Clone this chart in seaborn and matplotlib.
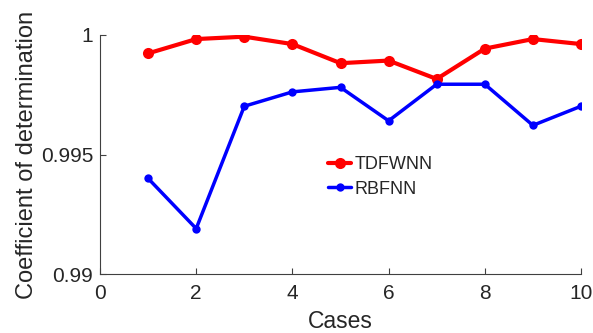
import numpy as np
import pandas as pd
import matplotlib
matplotlib.use('Agg')
import matplotlib.pyplot as plt
import seaborn as sns

cases = [1, 2, 3, 4, 5, 6, 7, 8, 9, 10]
tdfwnn = [0.99923, 0.99983, 0.99993, 0.99962, 0.99882, 0.99893, 0.99816, 0.99943, 0.99983, 0.99962]
rbfnn = [0.99400, 0.99190, 0.99702, 0.99762, 0.99781, 0.99641, 0.99794, 0.99794, 0.99622, 0.99702]

df = pd.DataFrame({'Cases': cases * 2,
                   'value': tdfwnn + rbfnn,
                   'model': ['TDFWNN'] * 10 + ['RBFNN'] * 10})

sns.set_style('white')
plt.rcParams['font.family'] = ['Liberation Sans', 'DejaVu Sans']

fig = plt.figure(figsize=(5.93, 3.33), dpi=100)
ax = fig.add_axes([100 / 593, 59 / 333, 481 / 593, 239 / 333])

sub = df[df['model'] == 'TDFWNN']
sns.lineplot(data=sub, x='Cases', y='value', ax=ax, color='red', linewidth=3,
             marker='o', markersize=8, markeredgewidth=0, label='TDFWNN')
sub = df[df['model'] == 'RBFNN']
sns.lineplot(data=sub, x='Cases', y='value', ax=ax, color='blue', linewidth=2.5,
             marker='o', markersize=6, markeredgewidth=0, label='RBFNN')

ax.set_xlim(0, 10)
ax.set_ylim(0.99, 1.0)
ax.set_xticks([0, 2, 4, 6, 8, 10])
ax.set_yticks([0.99, 0.995, 1.0])
ax.set_yticklabels(['0.99', '0.995', '1'])
ax.tick_params(direction='in', length=4.5, labelsize=15, color='#404040',
               labelcolor='#262626', width=0.8, bottom=True, left=True)
ax.tick_params(axis='x', pad=7)
ax.tick_params(axis='y', pad=5)
for s in ['top', 'right']:
    ax.spines[s].set_visible(False)
for s in ['left', 'bottom']:
    ax.spines[s].set_color('#404040')
    ax.spines[s].set_linewidth(0.8)
ax.set_xlabel('Cases', fontsize=16.5, color='#262626', labelpad=5)
ax.set_ylabel('Coefficient of determination', fontsize=17, color='#262626', labelpad=2)
ax.legend(loc='upper left', bbox_to_anchor=(0.44, 0.56), frameon=False, fontsize=13,
          handlelength=1.3, handletextpad=0.2, labelspacing=0.4)

fig.savefig('out.png', dpi=100)
